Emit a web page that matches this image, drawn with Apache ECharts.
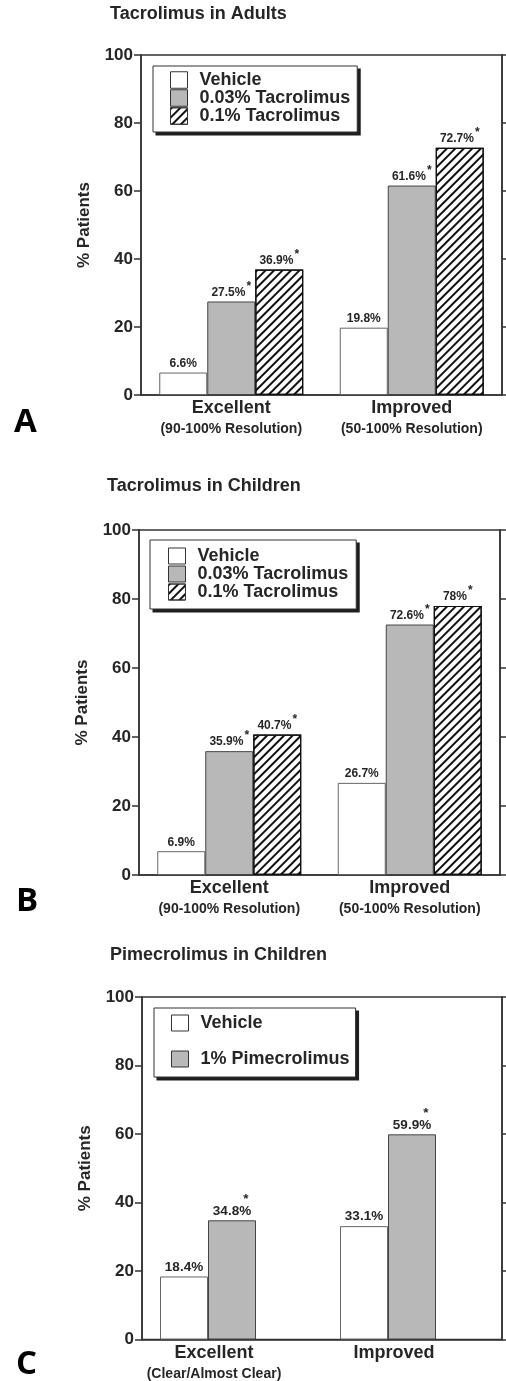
<!DOCTYPE html>
<html>
<head>
<meta charset="utf-8">
<script src="https://cdn.jsdelivr.net/npm/echarts@6/dist/echarts.min.js"></script>
<style>
html,body{margin:0;padding:0;background:#fff;}
#chart{width:506px;height:1381px;}
</style>
</head>
<body>
<div id="chart"></div>
<script>
// ---------- data ----------
const categoriesAB = ['Excellent', 'Improved'];
const subtitlesAB = ['(90-100% Resolution)', '(50-100% Resolution)'];
const categoriesC = ['Excellent', 'Improved'];
const subtitlesC = ['(Clear/Almost Clear)', ''];
const yTickValues = [0, 20, 40, 60, 80, 100];

const adultsVehicle = [6.6, 19.8];
const adultsTac003 = [27.5, 61.6];
const adultsTac01 = [36.9, 72.7];

const childrenVehicle = [6.9, 26.7];
const childrenTac003 = [35.9, 72.6];
const childrenTac01 = [40.7, 78];

const pimeVehicle = [18.4, 33.1];
const pime1 = [34.8, 59.9];

const panelTitles = ['Tacrolimus in Adults', 'Tacrolimus in Children', 'Pimecrolimus in Children'];
const panelLetters = ['A', 'B', 'C'];
const legendAB = ['Vehicle', '0.03% Tacrolimus', '0.1% Tacrolimus'];
const legendC = ['Vehicle', '1% Pimecrolimus'];

// ---------- styles ----------
const FONT = '"Liberation Sans", Arial, sans-serif';
const INK = '#262626';
const GRAY = '#b8b8b8';
const hatchDecal = {
  symbol: 'rect', symbolSize: 1, dashArrayX: [1, 0], dashArrayY: [1.6, 3.4],
  rotation: -Math.PI / 4, color: '#111'
};
const styles = {
  vehicle: {color: '#fff', borderColor: '#666', borderWidth: 1},
  gray: {color: GRAY, borderColor: '#444', borderWidth: 1},
  hatch: {color: '#fff', borderColor: '#111', borderWidth: 1.2, decal: hatchDecal}
};

const grids = [
  {left: 141, top: 55, width: 361, height: 340},
  {left: 139, top: 530, width: 361, height: 345},
  {left: 142, top: 997, width: 360, height: 344}
];

function catLabel(subs, labelPad) {
  return {
    interval: 0, margin: 3, padding: labelPad,
    formatter: (v, i) => '{a|' + v + '}' + (subs[i] ? '\n{b|' + subs[i] + '}' : ''),
    rich: {
      a: {fontFamily: FONT, fontWeight: 'bold', fontSize: 18, color: INK, lineHeight: 21},
      b: {fontFamily: FONT, fontWeight: 'bold', fontSize: 14, color: INK, lineHeight: 21}
    }
  };
}

const xAxes = [
  {gridIndex: 0, type: 'category', data: categoriesAB, axisTick: {show: false},
   axisLine: {lineStyle: {color: '#333', width: 1.5}}, axisLabel: catLabel(subtitlesAB, 0)},
  {gridIndex: 1, type: 'category', data: categoriesAB, axisTick: {show: false},
   axisLine: {lineStyle: {color: '#333', width: 1.5}}, axisLabel: catLabel(subtitlesAB, 0)},
  {gridIndex: 2, type: 'category', data: categoriesC, axisTick: {show: false},
   axisLine: {lineStyle: {color: '#333', width: 1.5}}, axisLabel: catLabel(subtitlesC, [0, 36, 0, 0])}
];

const yAxes = [];
for (let g = 0; g < 3; g++) {
  yAxes.push({
    gridIndex: g, type: 'value', position: 'left',
    min: yTickValues[0], max: yTickValues[yTickValues.length - 1],
    interval: yTickValues[1] - yTickValues[0],
    name: '% Patients', nameLocation: 'middle', nameGap: 48,
    nameTextStyle: {fontFamily: FONT, fontWeight: 'bold', fontSize: 17, color: INK},
    splitLine: {show: false},
    axisLine: {show: true, lineStyle: {color: '#333', width: 1.5}},
    axisTick: {show: true, length: 7, lineStyle: {color: '#333', width: 1.5}},
    axisLabel: {margin: 8, fontFamily: FONT, fontWeight: 'bold', fontSize: 17, color: INK}
  });
  yAxes.push({
    gridIndex: g, type: 'value', position: 'right',
    min: yTickValues[0], max: yTickValues[yTickValues.length - 1],
    interval: yTickValues[1] - yTickValues[0],
    splitLine: {show: false},
    axisLine: {show: true, lineStyle: {color: '#333', width: 1.5}},
    axisTick: {show: true, length: 6, lineStyle: {color: '#333', width: 1.5}},
    axisLabel: {show: false}
  });
}

function labelAB(star) {
  return {
    show: true, position: 'top', distance: 3,
    formatter: p => '{v|' + p.value + '%}' + (star ? '{s|*}' : ''),
    rich: {
      v: {fontFamily: FONT, fontWeight: 'bold', fontSize: 12, color: INK, verticalAlign: 'bottom'},
      s: {fontFamily: FONT, fontWeight: 'bold', fontSize: 12, color: INK, verticalAlign: 'bottom', padding: [0, 0, 6, 1]}
    }
  };
}
function labelC(star) {
  return {
    show: true, position: 'top', distance: 2,
    formatter: p => (star ? '{s|*}\n' : '') + '{v|' + p.value + '%}',
    rich: {
      v: {fontFamily: FONT, fontWeight: 'bold', fontSize: 13.5, color: INK, lineHeight: 15},
      s: {fontFamily: FONT, fontWeight: 'bold', fontSize: 13.5, color: INK, lineHeight: 9, padding: [0, 0, 0, 28]}
    }
  };
}

function bar(name, data, gi, style, label) {
  return {
    type: 'bar', name: name, data: data, xAxisIndex: gi, yAxisIndex: gi * 2,
    barWidth: 48, barGap: '0%', itemStyle: style, label: label,
    emphasis: {disabled: true}, silent: true
  };
}

const series = [
  bar(legendAB[0], adultsVehicle, 0, styles.vehicle, labelAB(false)),
  bar(legendAB[1], adultsTac003, 0, styles.gray, labelAB(true)),
  bar(legendAB[2], adultsTac01, 0, styles.hatch, labelAB(true)),
  bar(legendAB[0], childrenVehicle, 1, styles.vehicle, labelAB(false)),
  bar(legendAB[1], childrenTac003, 1, styles.gray, labelAB(true)),
  bar(legendAB[2], childrenTac01, 1, styles.hatch, labelAB(true)),
  bar(legendC[0], pimeVehicle, 2, styles.vehicle, labelC(false)),
  bar(legendC[1], pime1, 2, styles.gray, labelC(true)),
  // empty third slot: the original layout keeps room for a third bar
  bar('_slot', [], 2, styles.vehicle, {show: false})
];

const LEGEND_FONT_SIZE = 18;
const LEGEND_TEXT_PAD = 7;
const legendSpecs = [
  {data: legendAB, left: 153, top: 66, pad: [5, 7, 7, 17], gap: 0, ih: 16.5},
  {data: legendAB, left: 150, top: 540, pad: [7, 8, 8, 18], gap: 0, ih: 16},
  {data: legendC, left: 154, top: 1008, pad: [6, 6, 9, 17], gap: 18, ih: 16}
];

const legends = legendSpecs.map(s => ({
  data: s.data, orient: 'vertical', left: s.left, top: s.top, padding: s.pad,
  itemGap: s.gap, itemWidth: 17, itemHeight: s.ih, icon: 'rect', z: 6,
  backgroundColor: '#fff', borderColor: '#333', borderWidth: 1,
  selectedMode: false,
  itemStyle: {borderColor: '#333', borderWidth: 1},
  textStyle: {fontFamily: FONT, fontWeight: 'bold', fontSize: LEGEND_FONT_SIZE, color: INK,
    lineHeight: s.ih, padding: [0, 0, 0, LEGEND_TEXT_PAD]}
}));

const titlePos = [[110, 5], [107, 477], [110, 946]];
const letterPos = [[14, 406], [16, 885], [16, 1348]];
const graphic = [];
for (let i = 0; i < 3; i++) {
  graphic.push({type: 'text', left: titlePos[i][0], top: titlePos[i][1],
    style: {text: panelTitles[i], font: 'bold 18px ' + FONT, fill: INK}});
  graphic.push({type: 'text', left: letterPos[i][0], top: letterPos[i][1],
    style: {text: panelLetters[i], font: 'bold 33px "Open Sans", sans-serif', fill: '#000'}});
}

const chart = echarts.init(document.getElementById('chart'));
chart.setOption({
  animation: false,
  backgroundColor: '#fff',
  grid: grids.map(g => Object.assign({show: true, borderColor: '#333', borderWidth: 1.5, backgroundColor: 'transparent'}, g)),
  xAxis: xAxes,
  yAxis: yAxes,
  legend: legends,
  graphic: graphic,
  series: series
});

// hard drop shadow behind each legend box, sized from the rendered legend
(function addLegendShadows() {
  const shadows = [];
  legendSpecs.forEach((s, i) => {
    let x = s.left, y = s.top, w = 205, h = 64;
    try {
      const model = chart.getModel().getComponent('legend', i);
      const view = chart.getViewOfComponentModel(model);
      const r = view.group.getBoundingRect();
      x = view.group.x + r.x; y = view.group.y + r.y; w = r.width; h = r.height;
    } catch (e) {}
    shadows.push({type: 'rect', z: 1, silent: true,
      shape: {x: x + 3, y: y + 3, width: w, height: h}, style: {fill: '#1e1e1e'}});
  });
  chart.setOption({graphic: graphic.concat(shadows)}, {replaceMerge: ['graphic']});
})();
</script>
</body>
</html>
